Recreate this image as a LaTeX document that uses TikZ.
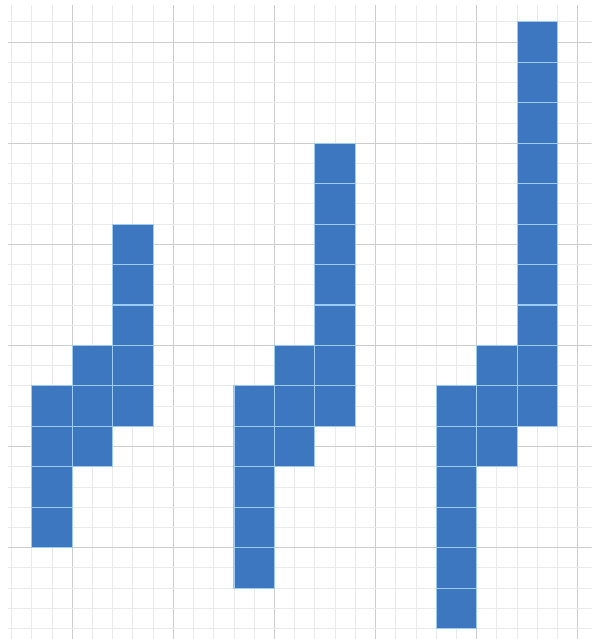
\documentclass[tikz,border=0pt]{standalone}
\usetikzlibrary{backgrounds}
\definecolor{minorgrid}{HTML}{EAEAEA}
\definecolor{majorgrid}{HTML}{CDCDCD}
\definecolor{cellblue}{HTML}{3C77C0}
\definecolor{celledge}{HTML}{9CCCF0}
\tikzset{
  minorline/.style={draw=minorgrid, line width=0.9pt},
  majorline/.style={draw=majorgrid, line width=1.2pt},
  cellbox/.style={fill=cellblue, draw=celledge, line width=1.1pt},
}
\begin{document}
\begin{tikzpicture}[x=20.17pt, y=-20.17pt]
  % bounding box: 590 x 639 px, origin at (72px,42px)
  \useasboundingbox[fill=white] (-3.5697,-2.0823) rectangle (25.6817,29.5163);
  \begin{scope}
    \clip (-3.17,-1.83) rectangle (25.6817,29.5163);
    \foreach \i in {-3,...,25} {
      \pgfmathtruncatemacro{\m}{mod(\i+100,5)}
      \ifnum\m=0
        \draw[majorline] (\i,-2.1) -- (\i,29.6);
      \else
        \draw[minorline] (\i,-2.1) -- (\i,29.6);
      \fi
    }
    \foreach \j in {-1,...,29} {
      \pgfmathtruncatemacro{\m}{mod(\j+100,5)}
      \ifnum\m=0
        \draw[majorline] (-3.6,\j) -- (25.7,\j);
      \else
        \draw[minorline] (-3.6,\j) -- (25.7,\j);
      \fi
    }
  \end{scope}
  % columns: {x-left, y-top, number of squares}
  \foreach \x/\y/\n in {-2/17/4, 0/15/3, 2/9/5,
                        8/17/5, 10/15/3, 12/5/7,
                        18/17/6, 20/15/3, 22/-1/10} {
    \foreach \k in {1,...,\n} {
      \pgfmathsetmacro{\yy}{\y+2*(\k-1)}
      \draw[cellbox] (\x,\yy) rectangle ++(2,2);
    }
  }
\end{tikzpicture}
\end{document}
